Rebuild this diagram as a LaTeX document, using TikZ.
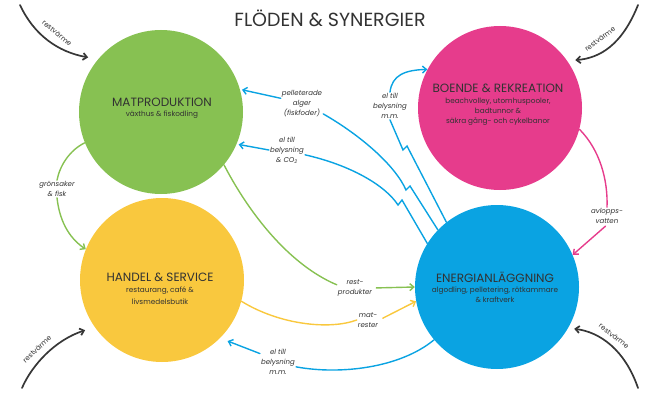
\documentclass[tikz,border=0pt]{standalone}
\usepackage{fontspec}
\setmainfont{Poppins}
\usetikzlibrary{arrows.meta}
\definecolor{matgreen}{RGB}{135,193,82}
\definecolor{recpink}{RGB}{230,60,140}
\definecolor{shopyellow}{RGB}{249,200,62}
\definecolor{energyblue}{RGB}{10,163,226}
\definecolor{heat}{RGB}{55,55,55}
\definecolor{ink}{RGB}{50,50,50}
\begin{document}
\begin{tikzpicture}[x=1pt,y=-1pt,
  disc/.style={circle,minimum size=164pt,inner sep=0pt},
  head/.style={font=\fontsize{12}{14}\selectfont,text=ink,inner sep=0pt},
  sub/.style={font=\fontsize{7.3}{#1}\selectfont,text=ink,align=center,inner sep=0pt},
  sub/.default=10,
  lbl/.style={font=\fontsize{7}{10}\selectfont\itshape,text=ink,align=center,inner sep=1pt},
  flow/.style={line width=1.4pt,line cap=round},
  tip/.style={-{Straight Barb[length=4pt,width=7pt]}},
  warm/.style={line width=1.7pt,draw=heat,line cap=round,-{Straight Barb[length=4pt,width=7pt]}},
  warmlbl/.style={font=\fontsize{7}{8}\selectfont,text=ink,inner sep=0pt}]
\useasboundingbox (0,0) rectangle (652,398);

% the four activity areas
\node[disc,fill=matgreen]   (mat) at (161,112) {};
\node[disc,fill=recpink]    (boe) at (500,108) {};
\node[disc,fill=shopyellow] (han) at (162,280) {};
\node[disc,fill=energyblue] (ene) at (497,287) {};

\node[head] (matT) at (162,102) {MATPRODUKTION};
\node[sub]  (matS) at (162,115) {växthus \& fiskodling};
\node[head] (boeT) at (498,88) {BOENDE \& REKREATION};
\node[sub]  (boeS) at (498,112) {beachvolley, utomhuspooler,\\badtunnor \&\\säkra gång- och cykelbanor};
\node[head] (hanT) at (160,277) {HANDEL \& SERVICE};
\node[sub=12] (hanS) at (160,296) {restaurang, café \&\\livsmedelsbutik};
\node[head] (eneT) at (495,277) {ENERGIANLÄGGNING};
\node[sub]  (eneS) at (495,295) {algodling, pelletering, rötkammare\\\& kraftverk};

\node[font=\fontsize{19}{22}\selectfont,text=ink] (title) at (330,18) {FLÖDEN \& SYNERGIER};

% flow labels
\node[lbl] (fisk) at (302,104) {pelleterade\\alger\\(fiskfoder)};
\node[lbl] (co2)  at (287,150) {el till\\belysning\\\& CO\textsubscript{2}};
\node[lbl] (elb)  at (390,106) {el till\\belysning\\m.m.};
\node[lbl] (rest) at (355,288) {rest-\\produkter};
\node[lbl] (matr) at (368,320) {mat-\\rester};
\node[lbl] (elh)  at (278,362) {el till\\belysning\\m.m.};
\node[lbl] (avl)  at (607,216) {avlopps-\\vatten};
\node[lbl] (gron) at (57,189) {grönsaker\\\& fisk};

% food production -> trade
\draw[flow,draw=matgreen] (mat.-158) .. controls (70,150) and (60,165) .. (gron.north);
\draw[flow,draw=matgreen,tip] (gron.south) .. controls (60,225) and (72,240) .. (han.158);

% residual products and food waste -> energy plant
\draw[flow,draw=matgreen] (mat.-40) .. controls (250,215) and (290,265) .. (rest.170);
\draw[flow,draw=matgreen,tip,shorten <=3pt] (rest.east) -- (ene.180);
\draw[flow,draw=shopyellow] (han.-15) .. controls (280,325) and (330,330) .. (matr.west);
\draw[flow,draw=shopyellow,tip,shorten <=4pt] (matr.east) -- (ene.-170);

% electricity back to trade
\draw[flow,draw=energyblue] (ene.220) .. controls (400,368) and (340,375) .. (elh.-15);
\draw[flow,draw=energyblue,tip,shorten >=8pt] (elh.155) -- (han.-45);

% waste water -> energy plant
\draw[flow,draw=recpink] (boe.-15) .. controls (600,150) and (608,180) .. (avl.north);
\draw[flow,draw=recpink,tip,shorten <=2pt] (avl.south) -- (ene.23);

% energy plant -> food production and housing
\draw[flow,draw=energyblue] (fisk.-25) .. controls (360,135) and (395,165) .. (406,190) -- (410,186) -- (ene.136);
\draw[flow,draw=energyblue,tip,shorten >=2pt] (fisk.165) -- (mat.16);
\draw[flow,draw=energyblue] (co2.-15) .. controls (350,165) and (385,185) .. (398,205) -- (402,200) -- (ene.148);
\draw[flow,draw=energyblue,tip,shorten >=2pt] (co2.west) -- (mat.-23);
\draw[flow,draw=energyblue] (elb.south) -- (403,150) -- (407,146) -- (ene.128);
\draw[flow,draw=energyblue,tip] (elb.north) .. controls (392,75) and (405,70) .. (boe.152);

% residual heat from outside
\coordinate (rv1) at (20,5);
\coordinate (rv2) at (638,5);
\coordinate (rv3) at (22,388);
\coordinate (rv4) at (638,388);
\draw[warm,shorten >=10pt] (rv1) .. controls (34,35) and (58,52) .. (mat.140);
\draw[warm,shorten >=8pt] (rv2) .. controls (622,45) and (600,58) .. (boe.35);
\draw[warm,shorten >=10pt] (rv3) .. controls (32,365) and (55,340) .. (han.215);
\draw[warm,shorten >=6pt] (rv4) .. controls (625,350) and (600,332) .. (ene.-30);
\node[warmlbl,rotate=-40] (rl1) at (57,33) {restvärme};
\node[warmlbl,rotate=37]  (rl2) at (600,39) {restvärme};
\node[warmlbl,rotate=43]  (rl3) at (37,349) {restvärme};
\node[warmlbl,rotate=-38] (rl4) at (614,336) {restvärme};
\end{tikzpicture}
\end{document}
